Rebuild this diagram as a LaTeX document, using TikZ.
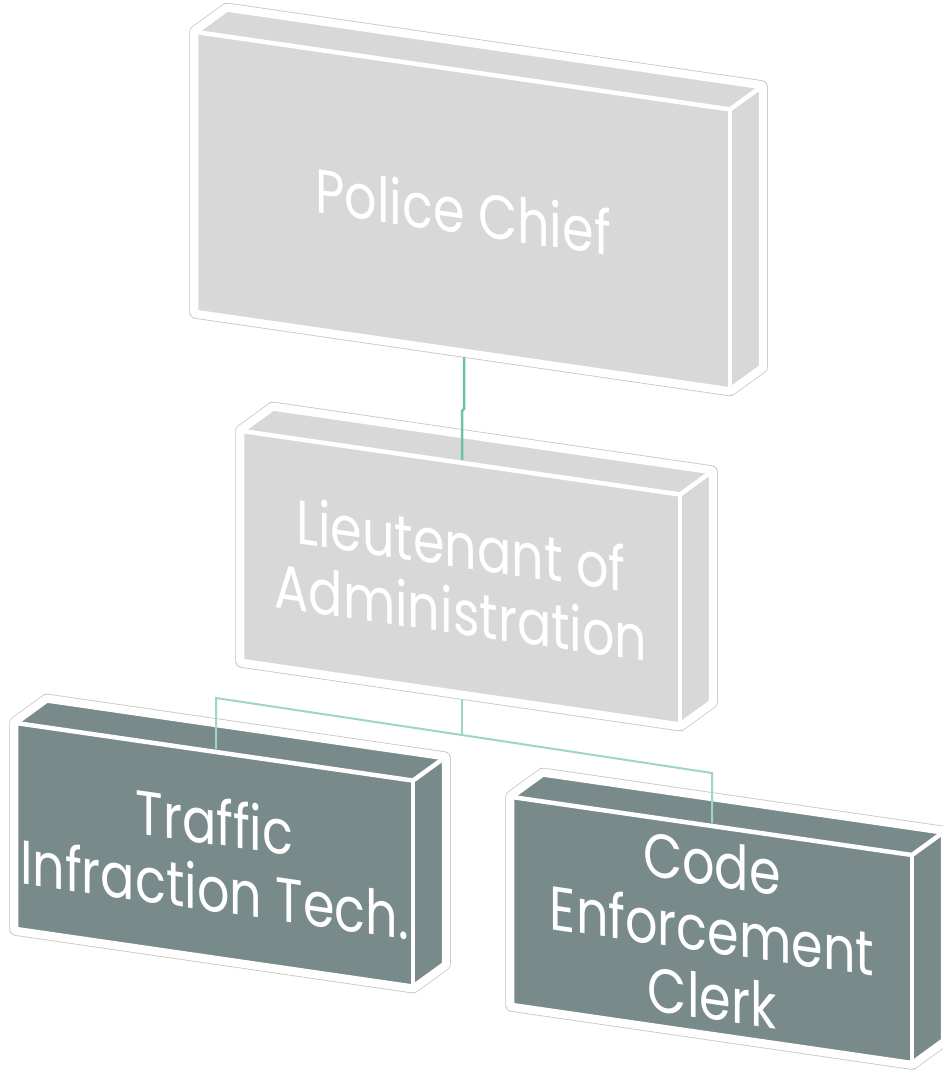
\documentclass[tikz,border=0pt]{standalone}
\usepackage{fontspec}
\setmainfont{Poppins}
\definecolor{lightbox}{HTML}{D8D8D8}
\definecolor{darkbox}{HTML}{798A8A}
\definecolor{connA}{HTML}{6CC4A3}
\definecolor{connB}{HTML}{9ED6C1}
\definecolor{rim}{HTML}{C4C4C4}
\tikzset{
  rimline/.style={draw=rim, line width=13.5, line join=round},
  rimwhite/.style={draw=white, line width=12, line join=round},
  edgeline/.style={draw=white, line width=4.5, line join=round},
  boxtext/.style={text=white, font=\fontsize{62}{67}\selectfont, align=center, transform shape, xscale=0.82, inner sep=0pt},
  connmain/.style={draw=connA, line width=2.5},
  connbus/.style={draw=connB, line width=2},
}
% #1 name, #2 x, #3 y, #4 W, #5 H, #6 fill, #7 text, #8 local x of connector
\newcommand\orgbox[8]{%
\begin{scope}[shift={(#2,#3)}, yslant=-0.145]
  \path[rimline] (0,0) -- (31,-27) -- (#4+31,-27) -- (#4+31,#5-27) -- (#4,#5) -- (0,#5) -- cycle;
  \path[rimwhite] (0,0) -- (31,-27) -- (#4+31,-27) -- (#4+31,#5-27) -- (#4,#5) -- (0,#5) -- cycle;
  \fill[#6] (0,0) rectangle (#4,#5);
  \fill[#6] (0,0) -- (31,-27) -- (#4+31,-27) -- (#4,0) -- cycle;
  \fill[#6] (#4,0) -- (#4+31,-27) -- (#4+31,#5-27) -- (#4,#5) -- cycle;
  \path[edgeline] (0,#5) -- (0,0) -- (31,-27) -- (#4+31,-27) -- (#4+31,#5-27) -- (#4,#5) -- cycle;
  \path[edgeline] (0,0) -- (#4,0) -- (#4+31,-27);
  \path[edgeline] (#4,0) -- (#4,#5);
  \node[boxtext] (#1) at (#4/2,#5/2) {#7};
  \coordinate (#1-top) at (#8,-3);
  \coordinate (#1-bot) at (#8,#5+6);
\end{scope}}
\begin{document}
\begin{tikzpicture}[x=1pt,y=-1pt]
\useasboundingbox[fill=white] (0,0) rectangle (943,1072);
\orgbox{pc}{196}{32}{534}{280}{lightbox}{Police Chief}{268}
\orgbox{lt}{242}{431}{438}{230}{lightbox}{Lieutenant of\\Administration}{220}
\orgbox{tf}{16}{723}{397}{206}{darkbox}{Traffic\\Infraction Tech.}{200}
\orgbox{ce}{512}{797}{400}{208}{darkbox}{Code\\Enforcement\\Clerk}{200}
\coordinate (busl) at (216,698);
\coordinate (busc) at (462,735);
\coordinate (busr) at (712,773);
\path[connmain] (pc-bot) -- ++(0,52) -- ++(-2,2) -- (lt-top);
\path[connbus] (lt-bot) -- (busc);
\path[connbus] (tf-top) -- (busl) -- (busc) -- (busr) -- (ce-top);
\end{tikzpicture}
\end{document}
